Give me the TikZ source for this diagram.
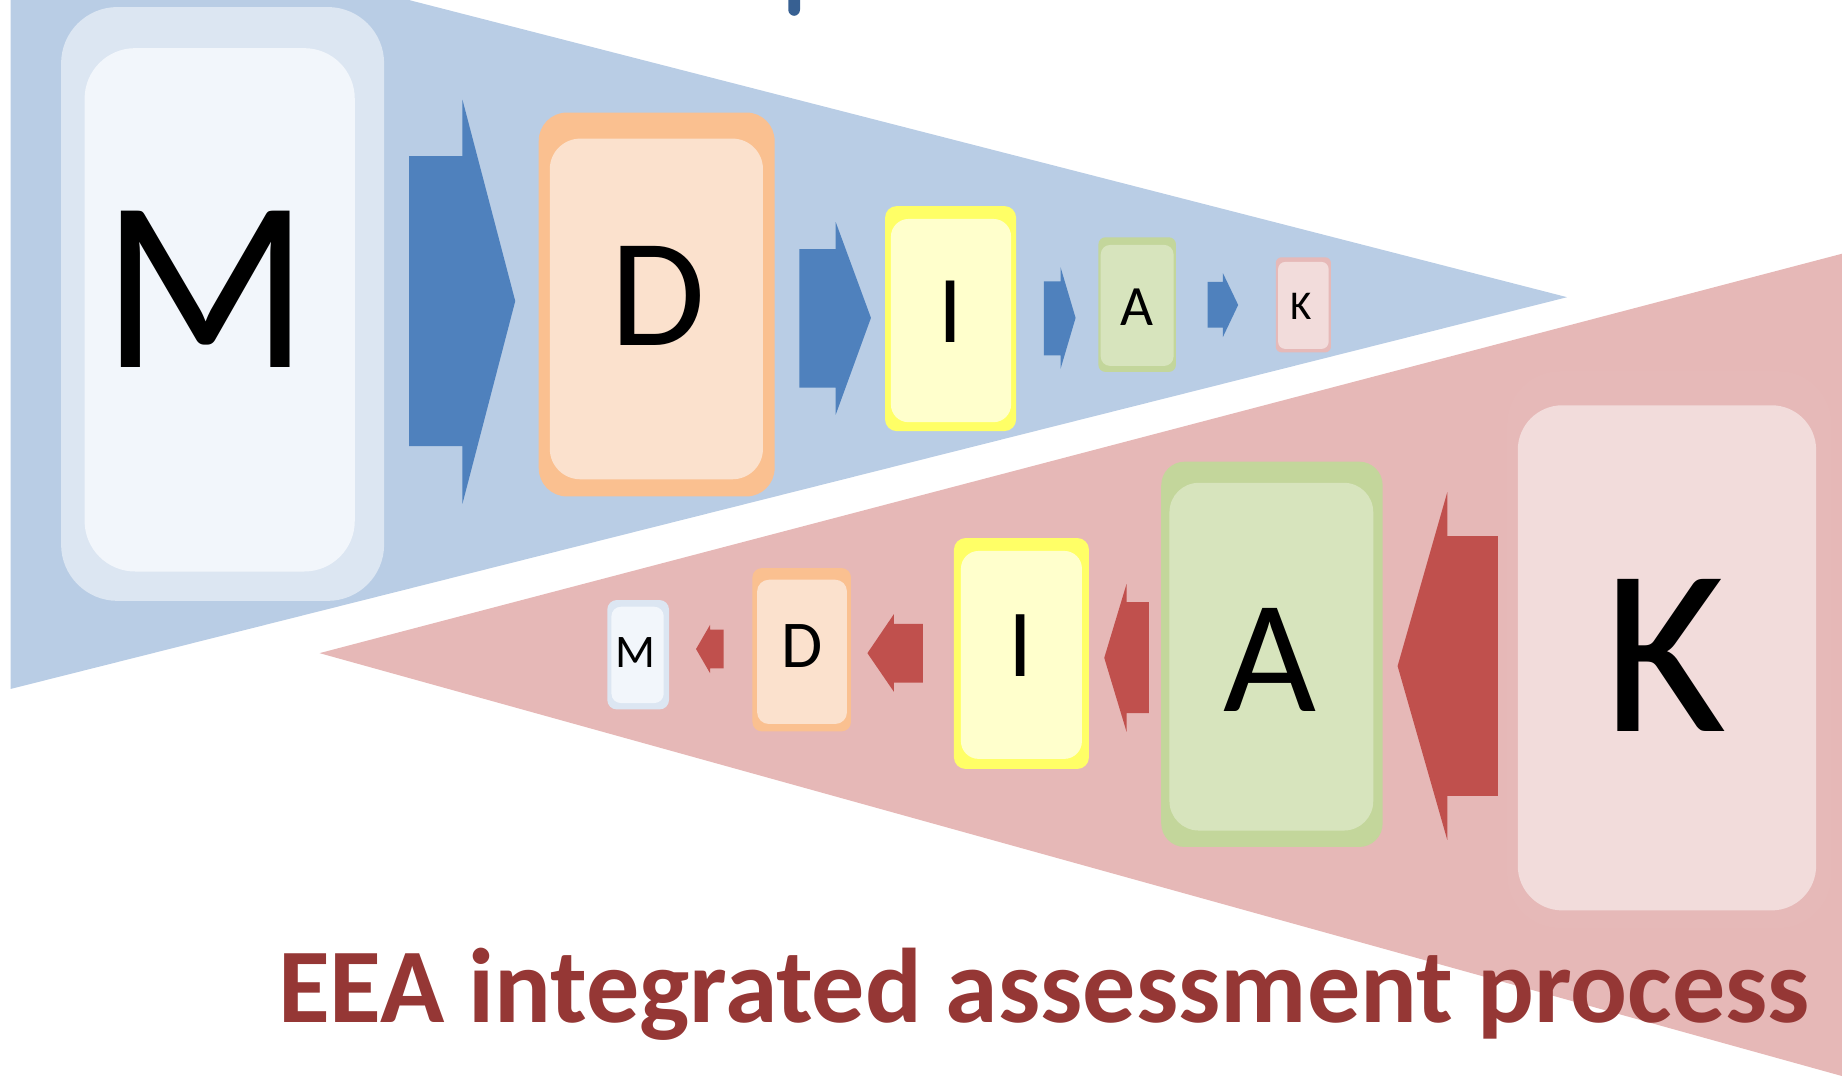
\documentclass[tikz,border=0pt]{standalone}
\usepackage{fontspec}
\usepackage{graphicx}
\setmainfont{Carlito}
\usetikzlibrary{fit}
\definecolor{bgblue}{HTML}{B9CDE5}
\definecolor{bgpink}{HTML}{E6B8B7}
\definecolor{markblue}{HTML}{376092}
\definecolor{arrblue}{HTML}{4F81BD}
\definecolor{arrred}{HTML}{C0504D}
\definecolor{titlered}{HTML}{953735}
\definecolor{mOut}{HTML}{DCE6F2}
\definecolor{mIn}{HTML}{F2F6FB}
\definecolor{dOut}{HTML}{FAC090}
\definecolor{dIn}{HTML}{FBE1CD}
\definecolor{iOut}{HTML}{FFFF66}
\definecolor{iIn}{HTML}{FFFFCC}
\definecolor{aOut}{HTML}{C3D69B}
\definecolor{aIn}{HTML}{D7E4BD}
\definecolor{kOut}{HTML}{E6B9B8}
\definecolor{kIn}{HTML}{F2DCDB}
\begin{document}
\begin{tikzpicture}[x=0.01cm,y=-0.01cm,
  box/.style={inner sep=0pt,outer sep=0pt,draw=none},
  lett/.style={anchor=base,inner sep=0pt,text=black},
  blkblue/.style={fill=arrblue},
  blkred/.style={fill=arrred}]
\useasboundingbox (0,0) rectangle (1568,916);
\begin{scope}
\clip (0,0) rectangle (1568,916);
\fill[bgblue] (9,0) -- (348,0) -- (1334,253) -- (9,586.5) -- cycle;
\fill[bgpink] (272,556) -- (1568,216) -- (1568,916) -- cycle;
\fill[markblue, rounded corners=1.5pt] (671,-20) rectangle (681,13.5);
\end{scope}
% top row
\node[box, fill=mOut, rounded corners=0.48cm, fit={(52,6) (327,511.5)}] (M1o) {};
\node[box, fill=mIn, rounded corners=0.43cm, fit={(72,41) (302,486.5)}] (M1i) {};
\node[lett, font=\fontsize{59}{60}\selectfont] (M1) at (175,313) {M};
\fill[blkblue] (348.2,132.9) -- (393.7,132.9) -- (393.7,85) -- (438.6,256.3) -- (393.7,428.7) -- (393.7,379.7) -- (348.2,379.7) -- cycle;
\node[box, fill=dOut, rounded corners=0.24cm, fit={(458.6,95.8) (659.4,422.6)}] (D1o) {};
\node[box, fill=dIn, rounded corners=0.26cm, fit={(468,118) (649.5,408)}] (D1i) {};
\node[lett, font=\fontsize{37.4}{38}\selectfont] (D1) at (560,294) {D};
\fill[blkblue] (680.5,212) -- (711.4,212) -- (711.4,189) -- (741.4,270.6) -- (711.4,353) -- (711.4,330) -- (680.5,330) -- cycle;
\node[box, fill=iOut, rounded corners=0.10cm, fit={(753.4,175.4) (865,367)}] (I1o) {};
\node[box, fill=iIn, rounded corners=0.15cm, fit={(758.4,186.4) (860.7,359.4)}] (I1i) {};
\node[lett, font=\fontsize{23.2}{24}\selectfont] (I1) at (809,291.5) {I};
\fill[blkblue] (888.7,239.6) -- (902.8,239.6) -- (902.8,227.5) -- (915.6,270.6) -- (902.8,314) -- (902.8,302.5) -- (888.7,302.5) -- cycle;
\node[box, fill=aOut, rounded corners=0.06cm, fit={(935,202) (1001,316.6)}] (A1o) {};
\node[box, fill=aIn, rounded corners=0.08cm, fit={(937,208.5) (999,311.5)}] (A1i) {};
\node[lett, font=\fontsize{13.8}{14}\selectfont] (A1) at (967.5,276.7) {A};
\fill[blkblue] (1028,240) -- (1041,240) -- (1041,232.5) -- (1054,259.6) -- (1041,286.9) -- (1041,279) -- (1028,279) -- cycle;
\node[box, fill=kOut, rounded corners=0.05cm, fit={(1086,219) (1133,300)}] (K1o) {};
\node[box, fill=kIn, rounded corners=0.06cm, fit={(1088,223) (1131,297)}] (K1i) {};
\node[lett, font=\fontsize{9.9}{10}\selectfont] (K1) at (1108,271.7) {K};
% bottom row
\node[box, fill=mOut, rounded corners=0.08cm, fit={(517,510.8) (569.5,603.9)}] (M2o) {};
\node[box, fill=mIn, rounded corners=0.08cm, fit={(520.5,516.5) (565,598.5)}] (M2i) {};
\node[lett, font=\fontsize{11.3}{12}\selectfont] (M2) at (541,568) {M};
\fill[blkred] (616,536) -- (604.4,536) -- (604.4,532) -- (592.5,552.5) -- (604.4,573) -- (604.4,569) -- (616,569) -- cycle;
\node[box, fill=dOut, rounded corners=0.08cm, fit={(640.5,483.6) (724.4,622.6)}] (D2o) {};
\node[box, fill=dIn, rounded corners=0.10cm, fit={(644.5,493.5) (721,616.3)}] (D2i) {};
\node[lett, font=\fontsize{16.2}{17}\selectfont] (D2) at (682.5,568.5) {D};
\fill[blkred] (785.6,531) -- (761,531) -- (761,522.7) -- (738.4,556) -- (761,589) -- (761,581) -- (785.6,581) -- cycle;
\node[box, fill=iOut, rounded corners=0.10cm, fit={(812,458) (927,654.6)}] (I2o) {};
\node[box, fill=iIn, rounded corners=0.15cm, fit={(818,469) (921,646)}] (I2i) {};
\node[lett, font=\fontsize{23.3}{24}\selectfont] (I2) at (869,575.7) {I};
\fill[blkred] (978,512.5) -- (959,512.5) -- (959,497) -- (940,560) -- (959,623) -- (959,607) -- (978,607) -- cycle;
\node[box, fill=aOut, rounded corners=0.20cm, fit={(988.5,393) (1177,721)}] (A2o) {};
\node[box, fill=aIn, rounded corners=0.25cm, fit={(995.5,411) (1169,707)}] (A2i) {};
\node[lett, font=\fontsize{38.9}{40}\selectfont] (A2) at (1081,606) {A};
\fill[blkred] (1275,456.3) -- (1232,456.3) -- (1232,419) -- (1189.7,567) -- (1232,715) -- (1232,677.6) -- (1275,677.6) -- cycle;
\node[box, fill=kOut, rounded corners=0.45cm, fit={(1283,316) (1559,790)}] (K2o) {};
\node[box, fill=kIn, rounded corners=0.38cm, fit={(1292,345) (1546,775)}] (K2i) {};
\node[lett, font=\fontsize{57.4}{58}\selectfont] (K2) at (1417,622.6) {K};
% title
\node[anchor=base west, inner sep=0pt, text=titlered] (title) at (236,870.7) {\resizebox{13.03cm}{!}{\bfseries EEA integrated assessment process}};
\end{tikzpicture}
\end{document}
